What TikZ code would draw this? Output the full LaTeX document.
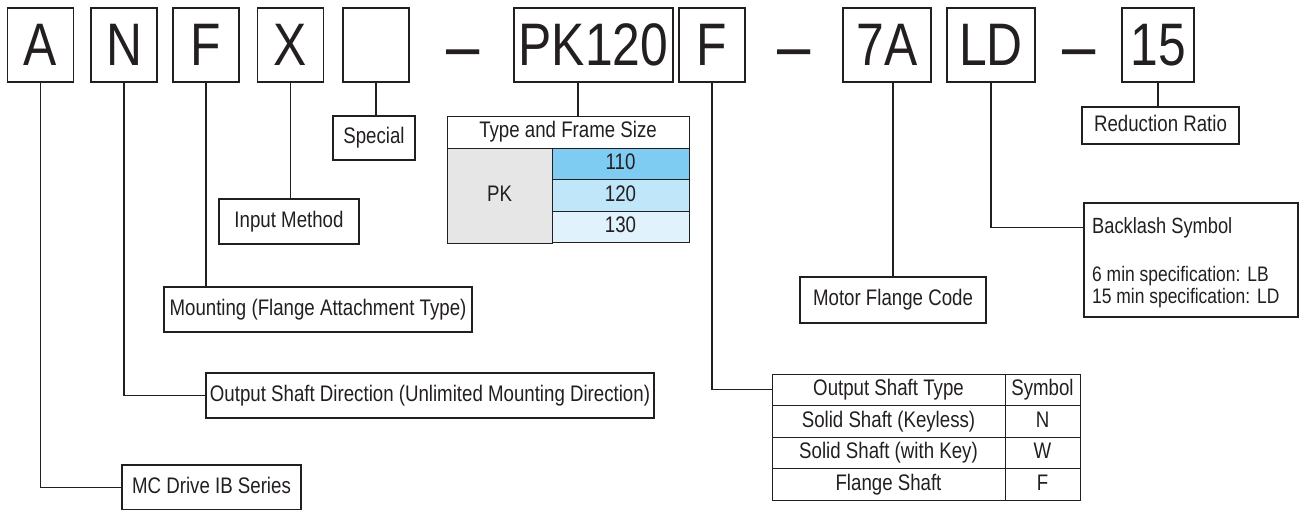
\documentclass[tikz,border=0pt]{standalone}
\usepackage{fontspec}
\setmainfont{Liberation Sans}[FakeStretch=0.83]
\usepackage{tikz}
\usetikzlibrary{calc,positioning}
\definecolor{mcink}{HTML}{231F20}
\definecolor{mcgray}{HTML}{E6E6E6}
\definecolor{mcblueA}{HTML}{7FCCF2}
\definecolor{mcblueB}{HTML}{BFE6F9}
\definecolor{mcblueC}{HTML}{E0F2FC}
\tikzset{
 mc code/.style={draw=mcink,line width=1.3pt,minimum width=66pt,minimum height=74pt,
                 inner sep=0pt,text=mcink,font=\fontsize{60}{60}\selectfont},
 mc dash/.style={inner sep=0pt,anchor=base,text=mcink,font=\fontsize{72}{72}\selectfont},
 mc label/.style={draw=mcink,line width=1.1pt,minimum height=45pt,inner sep=0pt,
                  text height=16pt,text depth=4.5pt,text=mcink,
                  font=\fontsize{22.5}{26}\selectfont},
 mc cell/.style={draw=mcink,line width=0.9pt,inner sep=0pt,text height=16pt,
                 text depth=4.5pt,text=mcink,font=\fontsize{22.5}{26}\selectfont},
 mc text/.style={inner sep=0pt,anchor=base west,text=mcink,
                 font=\fontsize{21}{26}\selectfont},
 mc link/.style={draw=mcink,line width=1.1pt}
}
\begin{document}
\begin{tikzpicture}[x=1pt,y=-1pt]
 \path[use as bounding box] (0,0) rectangle (1300,509);

 \node[mc code] (cA) at (40.5,45) {A};
 \node[mc code] (cN) at (124,45) {N};
 \node[mc code] (cF) at (206,45) {F};
 \node[mc code] (cX) at (290.5,45) {X};
 \node[mc code] (cS) at (376,45) {};
 \node[mc dash] (d1) at (463,70) {–};
 \node[mc code,minimum width=159pt] (cPK) at (593.5,45) {PK120};
 \node[mc code] (cFl) at (712,45) {F};
 \node[mc dash] (d2) at (794,70) {–};
 \node[mc code,minimum width=88pt] (cM) at (887,45) {7A};
 \node[mc code,minimum width=88pt] (cB) at (991,45) {LD};
 \node[mc dash] (d3) at (1079,70) {–};
 \node[mc code,minimum width=72pt] (cR) at (1158,45) {15};

 \node[mc label,minimum width=82pt,minimum height=44pt] (special) at (374,138) {Special};
 \node[mc label,minimum width=140pt] (input) at (289,221.5) {Input Method};
 \node[mc label,minimum width=308pt] (mount) at (318,309.5)
   {Mounting (Flange Attachment Type)};
 \node[mc label,minimum width=448pt] (outdir) at (430,395.5)
   {Output Shaft Direction (Unlimited Mounting Direction)};
 \node[mc label,minimum width=179pt] (series) at (211.5,487.5) {MC Drive IB Series};
 \node[mc label,minimum width=186pt,minimum height=46pt] (motor) at (893,300)
   {Motor Flange Code};
 \node[mc label,minimum width=157pt,minimum height=37pt] (ratio) at (1160.5,125.5)
   {Reduction Ratio};
 \node[mc label,minimum width=214pt,minimum height=114pt] (backlash) at (1191,260) {};
 \node[mc text,font=\fontsize{22}{26}\selectfont] (bltitle) at (1092,233)
   {Backlash Symbol};
 \node[mc text] (blLB) at (1092,281) {6 min specification:\hspace{7pt}LB};
 \node[mc text] (blLD) at (1092,303) {15 min specification:\hspace{7pt}LD};

 \node[mc cell,minimum width=242pt,minimum height=32pt] (tshead) at (568,132)
   {Type and Frame Size};
 \node[mc cell,fill=mcgray,minimum width=105pt,minimum height=95pt] (tspk)
   at (499.5,195.5) {PK};
 \foreach \s/\c [count=\i] in {110/mcblueA,120/mcblueB,130/mcblueC}
   \node[mc cell,fill=\c,minimum width=137pt,minimum height=31.5pt] (ts\s)
     at (620.5,132.5+31.5*\i) {\s};

 \foreach \shaft/\sym [count=\i] in {Output Shaft Type/Symbol,
     Solid Shaft (Keyless)/N,Solid Shaft (with Key)/W,Flange Shaft/F}{
   \node[mc cell,minimum width=233pt,minimum height=31.5pt] (os\i)
     at (888.5,358.25+31.5*\i) {\shaft};
   \node[mc cell,minimum width=75pt,minimum height=31.5pt] (sym\i)
     at (1042.5,358.25+31.5*\i) {\sym};
 }

 \coordinate (pkjoin) at (578,116);
 \draw[mc link] (cA.south) |- (series.west);
 \draw[mc link] (cN.south) |- (outdir.west);
 \draw[mc link] (cF.south) -- (cF.south |- mount.north);
 \draw[mc link] (cX.south) -- (cX.south |- input.north);
 \draw[mc link] (cS.south) -- (cS.south |- special.north);
 \draw[mc link] (cPK.south -| pkjoin) -- (pkjoin);
 \draw[mc link] (cFl.south) |- (os1.west);
 \draw[mc link] (motor.north) -- (motor.north |- cM.south);
 \draw[mc link] (cB.south) |- (backlash.west |- bltitle.west);
 \draw[mc link] (cR.south) -- (cR.south |- ratio.north);
\end{tikzpicture}
\end{document}
